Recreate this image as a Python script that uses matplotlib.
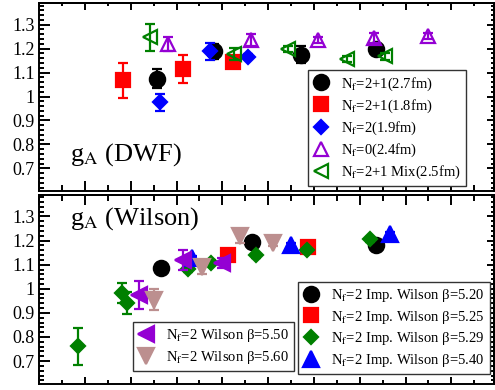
import matplotlib
matplotlib.use("Agg")
import matplotlib.pyplot as plt
from matplotlib.ticker import MultipleLocator, FuncFormatter

plt.rcParams["font.family"] = ["Liberation Serif", "DejaVu Serif"]
plt.rcParams["mathtext.fontset"] = "stix"

# ---- DWF data (top panel) ----
dwf27_x = [2.58, 3.81, 5.72, 7.36]
dwf27_y = [1.074, 1.188, 1.175, 1.199]
dwf27_e = [0.040, 0.030, 0.035, 0.020]

dwf18_x = [1.84, 3.15, 4.24]
dwf18_y = [1.067, 1.115, 1.143]
dwf18_e = [0.073, 0.058, 0.015]

nf2_x = [2.64, 3.73, 4.56]
nf2_y = [0.976, 1.189, 1.167]
nf2_e = [0.035, 0.035, 0.010]

nf0_x = [2.82, 4.63, 6.08, 7.32, 8.49]
nf0_y = [1.218, 1.236, 1.236, 1.245, 1.254]
nf0_e = [0.030, 0.025, 0.012, 0.020, 0.012]

mix_x = [2.42, 4.26, 5.44, 6.72, 7.55]
mix_y = [1.247, 1.178, 1.199, 1.157, 1.168]
mix_e = [0.057, 0.025, 0.012, 0.012, 0.015]

# ---- Wilson data (bottom panel) ----
b520_x = [2.66, 4.64, 7.36]
b520_y = [1.086, 1.195, 1.182]
b520_e = [0.010, 0.010, 0.010]

b525_x = [4.13, 5.88]
b525_y = [1.140, 1.175]
b525_e = [0.010, 0.010]

b529_x = [0.86, 1.81, 1.91, 3.24, 3.75, 4.73, 5.84, 7.23]
b529_y = [0.761, 0.982, 0.940, 1.081, 1.109, 1.139, 1.161, 1.205]
b529_e = [0.078, 0.040, 0.045, 0.010, 0.010, 0.010, 0.010, 0.010]

b540_x = [3.33, 5.50, 7.66]
b540_y = [1.128, 1.182, 1.226]
b540_e = [0.010, 0.010, 0.010]

w550_x = [2.17, 3.15, 3.99]
w550_y = [0.975, 1.120, 1.106]
w550_e = [0.058, 0.040, 0.020]

w560_x = [2.50, 3.55, 4.39, 5.10]
w560_y = [0.955, 1.090, 1.218, 1.188]
w560_e = [0.045, 0.030, 0.030, 0.010]

yticks = [0.7, 0.8, 0.9, 1.0, 1.1, 1.2, 1.3]

purple = "#9400D3"
green = "#008000"
rosy = "#BC8F8F"


def series(ax, x, y, e, color, marker, ms, label, filled=True):
    ax.errorbar(x, y, yerr=e, fmt="none", ecolor=color, elinewidth=1.6,
                capsize=3.6, capthick=1.6)
    ax.plot(x, y, ls="none", marker=marker, ms=ms, color=color,
            mfc=color if filled else "none", mec=color, mew=1.6, label=label)


def style_axes(ax, long_top):
    ax.set_xlim(0, 9.92)
    ax.set_ylim(0.605, 1.39)
    ax.xaxis.set_major_locator(MultipleLocator(1))
    ax.xaxis.set_minor_locator(MultipleLocator(0.5))
    ax.set_yticks(yticks)
    ax.yaxis.set_minor_locator(MultipleLocator(0.02))
    ax.yaxis.set_major_formatter(FuncFormatter(lambda v, p: f"{v:g}"))
    ax.tick_params(axis="x", which="both", labelbottom=False)
    ax.tick_params(axis="both", which="both", direction="in", width=1.4)
    ax.tick_params(axis="y", which="major", length=8, labelsize=13, pad=3)
    ax.tick_params(axis="y", which="minor", length=3.8)
    xl = (7.2, 4.0) if not long_top else (5.0, 2.8)
    ax.tick_params(axis="x", which="major", length=xl[0])
    ax.tick_params(axis="x", which="minor", length=xl[1])
    for s in ax.spines.values():
        s.set_linewidth(1.4)

    top = ax.secondary_xaxis("top")
    top.xaxis.set_major_locator(MultipleLocator(1))
    top.xaxis.set_minor_locator(MultipleLocator(0.5))
    tl = (5.0, 2.5) if not long_top else (7.2, 4.0)
    top.tick_params(which="both", direction="in", width=1.4, labeltop=False)
    top.tick_params(which="major", length=tl[0])
    top.tick_params(which="minor", length=tl[1])
    top.spines["top"].set_linewidth(1.4)

    right = ax.secondary_yaxis("right")
    right.set_yticks(yticks)
    right.yaxis.set_minor_locator(MultipleLocator(0.02))
    right.tick_params(which="both", direction="in", width=1.4, labelright=False)
    right.tick_params(which="major", length=5)
    right.tick_params(which="minor", length=2.3)
    right.spines["right"].set_linewidth(1.4)


def add_legend(ax, handles, labels, anchor):
    return ax.legend(handles, labels, loc="upper left", bbox_to_anchor=anchor,
                     borderaxespad=0, numpoints=1, fontsize=10.5, fancybox=False,
                     edgecolor="#333333", framealpha=1, handlelength=1.0,
                     handletextpad=0.9, labelspacing=0.33, borderpad=0.35)


fig = plt.figure(figsize=(4.95, 3.9), dpi=100)
ax1 = fig.add_axes([0.079, 0.510, 0.918, 0.482])
ax2 = fig.add_axes([0.079, 0.0155, 0.918, 0.485])

# top panel: domain wall fermions
series(ax1, dwf27_x, dwf27_y, dwf27_e, "black", "o", 11, r"N$_\mathrm{f}$=2+1(2.7fm)")
series(ax1, dwf18_x, dwf18_y, dwf18_e, "red", "s", 10, r"N$_\mathrm{f}$=2+1(1.8fm)")
series(ax1, nf2_x, nf2_y, nf2_e, "blue", "D", 7.5, r"N$_\mathrm{f}$=2(1.9fm)")
series(ax1, nf0_x, nf0_y, nf0_e, purple, "^", 10, r"N$_\mathrm{f}$=0(2.4fm)", filled=False)
series(ax1, mix_x, mix_y, mix_e, green, "<", 10, r"N$_\mathrm{f}$=2+1 Mix(2.5fm)", filled=False)
style_axes(ax1, long_top=False)
ax1.text(0.068, 0.16, r"g$_\mathrm{A}$ (DWF)", transform=ax1.transAxes, fontsize=19)
h1, l1 = ax1.get_legend_handles_labels()
add_legend(ax1, h1, l1, (0.5925, 0.6436))

# bottom panel: Wilson fermions
series(ax2, b520_x, b520_y, b520_e, "black", "o", 11, r"N$_\mathrm{f}$=2 Imp. Wilson β=5.20")
series(ax2, b525_x, b525_y, b525_e, "red", "s", 10, r"N$_\mathrm{f}$=2 Imp. Wilson β=5.25")
series(ax2, b529_x, b529_y, b529_e, green, "D", 7.5, r"N$_\mathrm{f}$=2 Imp. Wilson β=5.29")
series(ax2, b540_x, b540_y, b540_e, "blue", "^", 11, r"N$_\mathrm{f}$=2 Imp. Wilson β=5.40")
series(ax2, w550_x, w550_y, w550_e, purple, "<", 11, r"N$_\mathrm{f}$=2 Wilson β=5.50")
series(ax2, w560_x, w560_y, w560_e, rosy, "v", 11, r"N$_\mathrm{f}$=2 Wilson β=5.60")
style_axes(ax2, long_top=True)
ax2.text(0.068, 0.84, r"g$_\mathrm{A}$ (Wilson)", transform=ax2.transAxes, fontsize=19)

h2, l2 = ax2.get_legend_handles_labels()
ax2.add_artist(add_legend(ax2, h2[:4], l2[:4], (0.5705, 0.541)))
add_legend(ax2, h2[4:], l2[4:], (0.2075, 0.3265))

fig.savefig("out.png", dpi=100)
